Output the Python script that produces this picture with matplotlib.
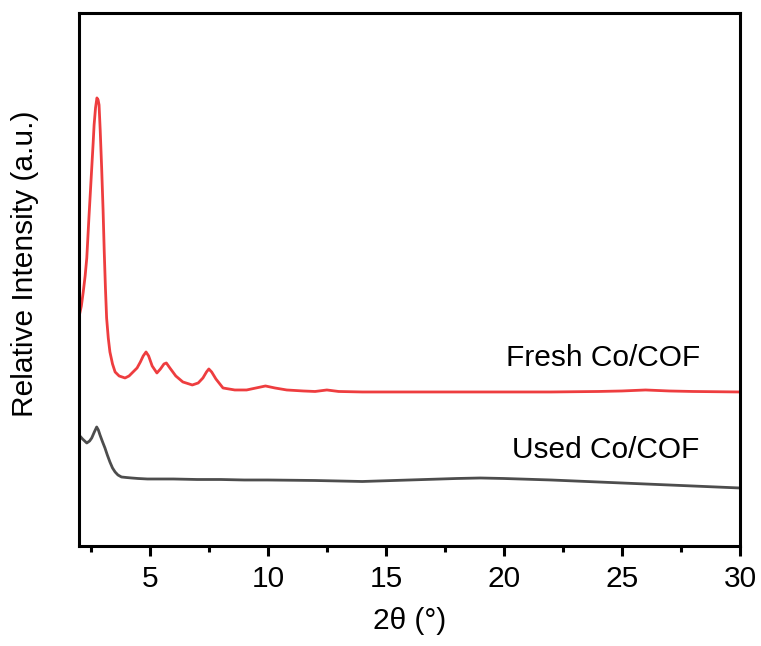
import matplotlib
matplotlib.use("Agg")
import matplotlib.pyplot as plt
from matplotlib.ticker import MultipleLocator

plt.rcParams['font.family'] = ['Liberation Sans', 'DejaVu Sans']

fresh_x = [2.0, 2.1, 2.18, 2.26, 2.33, 2.42, 2.48, 2.54, 2.6, 2.64, 2.7, 2.76, 2.81, 2.85, 2.9, 2.96, 3.02, 3.07, 3.12, 3.17, 3.24, 3.31, 3.42, 3.53, 3.7, 3.95, 4.12, 4.29, 4.46, 4.6, 4.72, 4.84, 4.95, 5.1, 5.3, 5.45, 5.6, 5.7, 5.85, 6.1, 6.4, 6.8, 7.05, 7.25, 7.4, 7.5, 7.62, 7.8, 8.1, 8.6, 9.1, 9.5, 9.9, 10.3, 10.8, 11.5, 12.0, 12.5, 13.0, 14.0, 16.0, 18.0, 20.0, 22.0, 24.0, 25.0, 26.0, 27.0, 28.0, 30.0]
fresh_y = [229, 240, 254, 270, 288, 328, 353, 378, 403, 421, 438, 448, 446, 441, 415, 378, 336, 294, 258, 228, 208, 194, 182, 174, 170, 168, 170, 174, 178, 184, 190, 194, 190, 180, 173, 177, 182, 183, 178, 170, 164, 161, 163, 168, 174, 177, 174, 167, 158, 156, 156, 158, 160, 158, 156, 155, 154.5, 156, 154.5, 154, 154, 154, 154, 154, 154.5, 155, 156, 155, 154.5, 154]

used_x = [2.0, 2.15, 2.33, 2.45, 2.54, 2.65, 2.75, 2.82, 2.89, 3.0, 3.1, 3.2, 3.31, 3.42, 3.53, 3.65, 3.8, 4.0, 4.23, 4.5, 4.9, 6.0, 7.0, 8.0, 9.0, 10.0, 12.0, 14.0, 16.0, 18.0, 19.0, 20.0, 22.0, 24.0, 26.0, 28.0, 30.0]
used_y = [111, 107, 103, 105, 108, 114, 119, 116, 111, 104, 98, 91, 84, 78, 74, 71, 69, 68.5, 68, 67.5, 67, 67, 66.5, 66.5, 66, 66, 65.5, 64.5, 66, 67.5, 68, 67.5, 66, 64, 62, 60, 58]

labels = ["Fresh Co/COF", "Used Co/COF"]
label_x = [20.1, 20.35]
label_y = [188, 96]

fig = plt.figure(figsize=(7.61, 6.46), dpi=100)
ax = fig.add_axes([0.1038, 0.1548, 0.8686, 0.8252])

ax.plot(fresh_x, fresh_y, color='#ee3d3f', lw=2.0, solid_joinstyle='round')
ax.plot(used_x, used_y, color='#4d4d4d', lw=2.0, solid_joinstyle='round')

ax.text(label_x[0], label_y[0], labels[0], fontsize=21.5, va='center', ha='left')
ax.text(label_x[1], label_y[1], labels[1], fontsize=21.5, va='center', ha='left')

ax.set_xlim(2, 30)
ax.set_ylim(0, 533)
ax.xaxis.set_major_locator(MultipleLocator(5))
ax.xaxis.set_minor_locator(MultipleLocator(2.5))
ax.tick_params(axis='x', which='major', direction='out', length=7, width=2.2, labelsize=21.5, pad=7)
ax.tick_params(axis='x', which='minor', direction='out', length=4, width=2.2)
ax.set_yticks([])
for s in ax.spines.values():
    s.set_linewidth(2.2)

ax.set_xlabel('2θ (°)', fontsize=21.5, labelpad=10)
ax.set_ylabel('Relative Intensity (a.u.)', fontsize=21.5)
ax.yaxis.set_label_coords(-0.061, 0.53)

fig.savefig('out.png', dpi=100)
